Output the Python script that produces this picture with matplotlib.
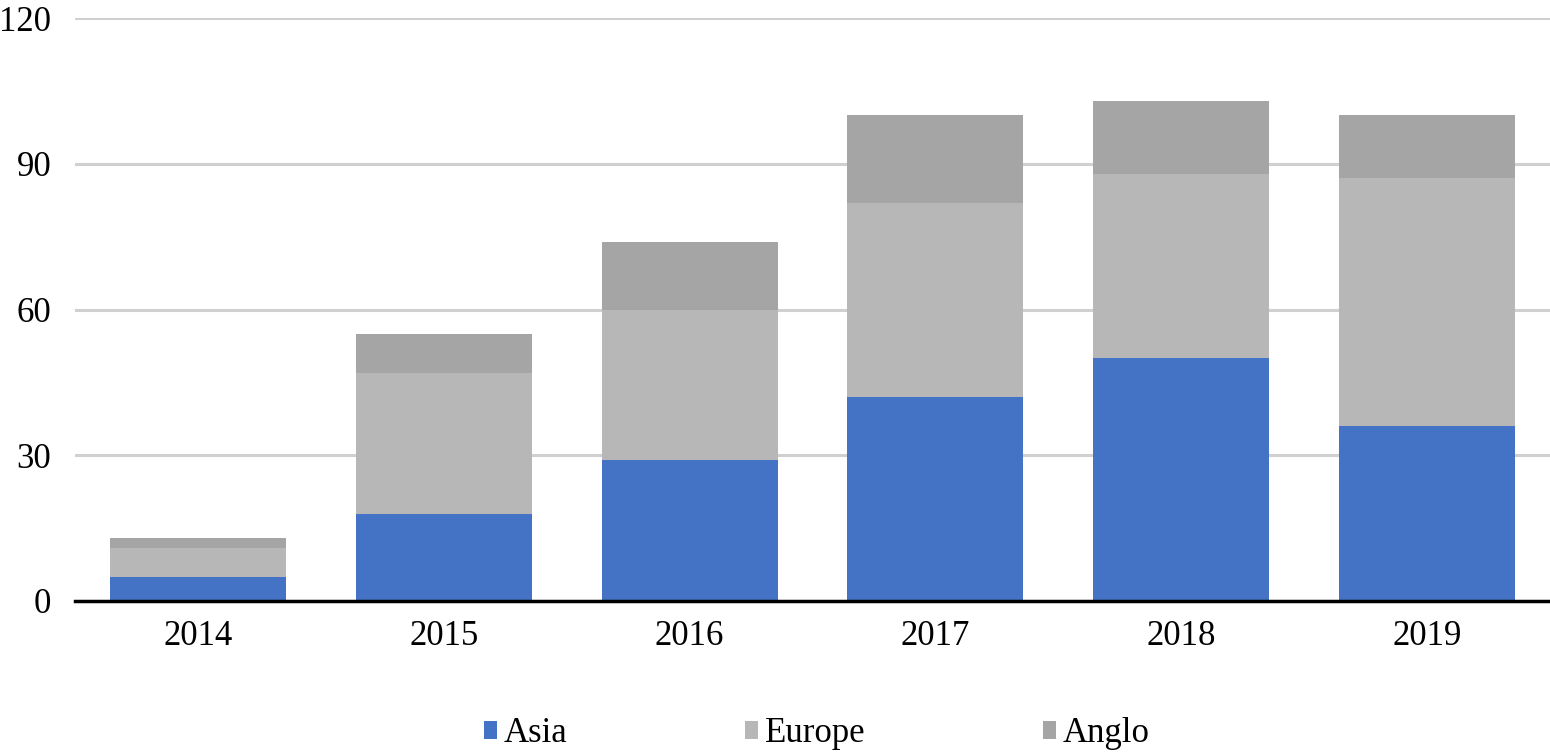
import matplotlib.pyplot as plt
import numpy as np

years = ["2014", "2015", "2016", "2017", "2018", "2019"]
asia = [5, 18, 29, 42, 50, 36]
europe = [6, 29, 31, 40, 38, 51]
anglo = [2, 8, 14, 18, 15, 13]

plt.rcParams['font.family'] = ['Liberation Serif', 'DejaVu Serif']

fig = plt.figure(figsize=(15.5, 7.52), dpi=100)
ax = fig.add_axes([0.0484, 0.2008, 0.9516, 0.7752])

x = np.arange(len(years))
w = 0.716
asia_a = np.array(asia)
eu_a = np.array(europe)
ax.bar(x, asia, w, color='#4472C4', label='Asia', zorder=3)
ax.bar(x, europe, w, bottom=asia_a, color='#B7B7B7', label='Europe', zorder=3)
ax.bar(x, anglo, w, bottom=asia_a + eu_a, color='#A5A5A5', label='Anglo', zorder=3)

ax.set_xlim(-0.5, len(years) - 0.5)
ax.set_ylim(0, 120)
ax.set_yticks([0, 30, 60, 90, 120])
ax.set_xticks(x)
ax.set_xticklabels(years)
ax.tick_params(axis='both', length=0, labelsize=25)
ax.tick_params(axis='x', pad=14)
ax.tick_params(axis='y', pad=17)
ax.grid(axis='y', color='#D0D0D0', linewidth=2.2, zorder=0)

for s in ['top', 'right', 'left']:
    ax.spines[s].set_visible(False)
ax.spines['bottom'].set_linewidth(2.5)
ax.spines['bottom'].set_zorder(4)

fig.legend(loc='center', bbox_to_anchor=(0.527, 0.024), ncol=3, frameon=False,
           fontsize=25, handlelength=0.38, handleheight=0.38, handletextpad=0.2,
           columnspacing=5.1)

fig.savefig('out.png', dpi=100)
